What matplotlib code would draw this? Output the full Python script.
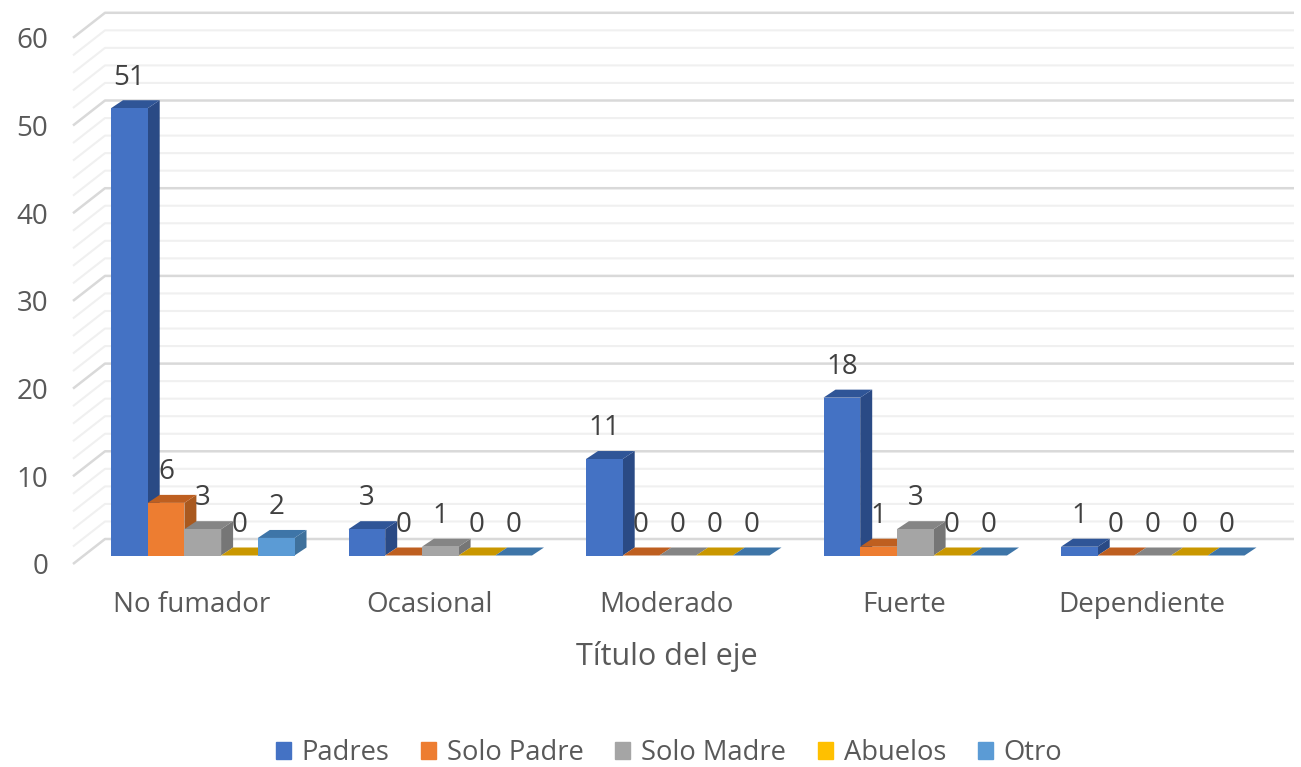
import matplotlib
matplotlib.use("Agg")
import matplotlib.pyplot as plt
from matplotlib.patches import Polygon, Patch

plt.rcParams['font.family'] = ['Open Sans', 'DejaVu Sans']

categorias = ["No fumador", "Ocasional", "Moderado", "Fuerte", "Dependiente"]
series = ["Padres", "Solo Padre", "Solo Madre", "Abuelos", "Otro"]
padres = [51, 3, 11, 18, 1]
solo_padre = [6, 0, 0, 1, 0]
solo_madre = [3, 1, 0, 3, 0]
abuelos = [0, 0, 0, 0, 0]
otro = [2, 0, 0, 0, 0]
valores = [padres, solo_padre, solo_madre, abuelos, otro]
y_ticks = [0, 10, 20, 30, 40, 50, 60]

# frente, lateral, tapa de cada serie
colores = ["#4472C4", "#ED7D31", "#A5A5A5", "#FFC000", "#5B9BD5"]
laterales = ["#2A4A85", "#A9591F", "#767676", "#B88A00", "#3F719C"]
tapas = ["#2F5597", "#BE5F20", "#858585", "#C99700", "#3E75A8"]
gris_texto = "#595959"

W, H = 1301, 767
fig = plt.figure(figsize=(W / 100, H / 100), dpi=100)

# ejes en pixeles de la imagen: izquierda, derecha, arriba, abajo
L, R, T, B = 73, 1294, 13, 564
ax = fig.add_axes([L / W, 1 - B / H, (R - L) / W, (B - T) / H])
px_x = 237.5      # pixeles por categoria
px_y = 8.77       # pixeles por unidad
x0 = 111          # borde izquierdo de la primera barra
y0 = 555.5        # base de las barras
ax.set_xlim((L - x0) / px_x, (R - x0) / px_x)
ax.set_ylim((y0 - B) / px_y, (y0 - T) / px_y)

ancho = 36.7 / px_x
prof_x = 12 / px_x
prof_y = 8 / px_y

# paredes con perspectiva
suelo = (y0 - B) / px_y
pared_x = (105 - x0) / px_x
pared_dy = 25 / px_y
for v in range(0, 61, 2):
    c = "#D9D9D9" if v % 10 == 0 else "#F0F0F0"
    lw = 1.8 if v % 10 == 0 else 1.5
    y_f = suelo + v
    ax.plot([(L - x0) / px_x, pared_x, (R - x0) / px_x], [y_f, y_f + pared_dy, y_f + pared_dy],
            color=c, lw=lw, zorder=1, clip_on=False, solid_capstyle="butt")

# barras 3d: frente con bar, lateral y tapa con poligonos
z = 2
for i in range(len(categorias)):
    for j in range(len(series)):
        v = valores[j][i]
        x = i + j * ancho
        ax.bar(x, v, width=ancho, align="edge", color=colores[j], zorder=z + 2)
        lado = [(x + ancho, 0), (x + ancho + prof_x, prof_y), (x + ancho + prof_x, v + prof_y), (x + ancho, v)]
        tapa = [(x, v), (x + prof_x, v + prof_y), (x + ancho + prof_x, v + prof_y), (x + ancho, v)]
        ax.add_patch(Polygon(lado, color=laterales[j], lw=0, zorder=z, clip_on=False))
        ax.add_patch(Polygon(tapa, color=tapas[j], lw=0, zorder=z + 1, clip_on=False))
        z += 3

for i in range(len(categorias)):
    for j in range(len(series)):
        v = valores[j][i]
        ax.text(i + (j + 0.5) * ancho, v + 3.5, str(v), ha="center", va="center",
                fontsize=20, color="#404040", zorder=500)

ax.set_xticks([i + 2.2 * ancho for i in range(len(categorias))], categorias)
ax.set_yticks([suelo + v for v in y_ticks], [str(v) for v in y_ticks])
ax.tick_params(axis="both", length=0, labelsize=20, labelcolor=gris_texto)
ax.tick_params(axis="x", pad=19.5)
ax.tick_params(axis="y", pad=18)
ax.set_xlabel("Título del eje", fontsize=22, color=gris_texto, labelpad=15.5, x=(667 - L) / (R - L))
for s in ax.spines.values():
    s.set_visible(False)

handles = [Patch(color=c, label=s) for c, s in zip(colores, series)]
fig.legend(handles=handles, loc="center", bbox_to_anchor=(669 / W, 1 - 753 / H), ncol=5, frameon=False,
           fontsize=19.7, labelcolor=gris_texto, handlelength=0.55, handleheight=0.55,
           handletextpad=0.4, columnspacing=1.15)

fig.savefig("out.png", dpi=100)
